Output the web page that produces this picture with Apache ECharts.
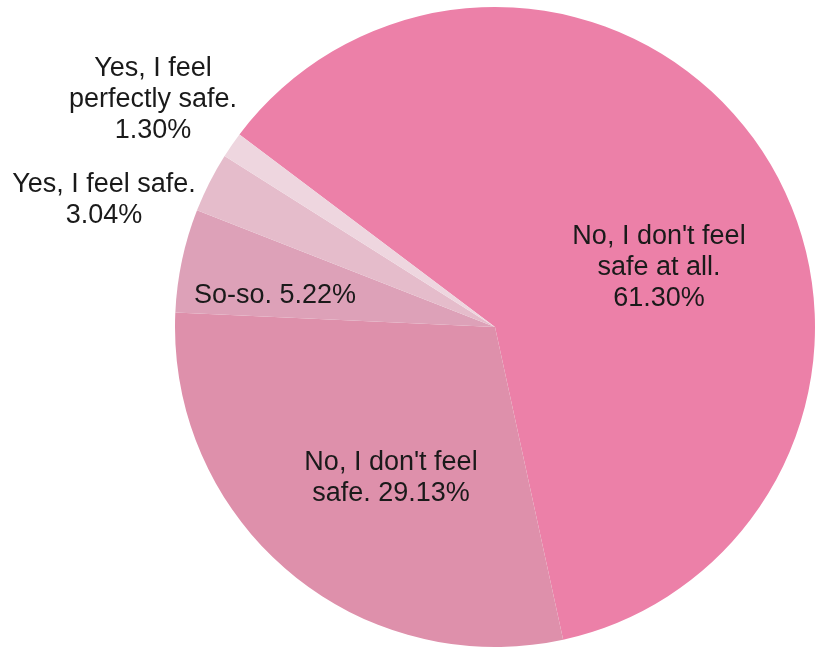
<!DOCTYPE html>
<html>
<head>
<meta charset="utf-8">
<script src="https://cdn.jsdelivr.net/npm/echarts@6/dist/echarts.min.js"></script>
<style>html,body{margin:0;padding:0;background:#fff}#c{width:827px;height:655px}</style>
</head>
<body>
<div id="c"></div>
<script>
const categories = [
  "No, I don't feel\nsafe at all.",
  "No, I don't feel\nsafe.",
  "So-so.",
  "Yes, I feel safe.",
  "Yes, I feel\nperfectly safe."
];
const values = [61.30, 29.13, 5.22, 3.04, 1.30];
const sliceColors = ['#ec80a8', '#de90ab', '#dda1b8', '#e5bccb', '#eed6df'];
const valueSeparators = ['\n', ' ', ' ', '\n', '\n'];
const labelAnchors = [[659, 268], [391, 478], [275, 296], [104, 200], [153, 100]];

const chart = echarts.init(document.getElementById('c'), null, {renderer: 'canvas'});
chart.setOption({
  animation: false,
  series: [{
    type: 'pie',
    center: [495, 327],
    radius: 320,
    startAngle: 143,
    clockwise: true,
    avoidLabelOverlap: false,
    data: categories.map((c, i) => ({
      name: c,
      value: values[i],
      itemStyle: {color: sliceColors[i]}
    })),
    itemStyle: {borderWidth: 0},
    emphasis: {disabled: true},
    label: {
      show: true,
      position: 'inside',
      fontFamily: '"Liberation Sans", Arial, sans-serif',
      fontSize: 27,
      lineHeight: 31,
      color: '#1a1a1a',
      align: 'center',
      formatter: p => p.name + valueSeparators[p.dataIndex] + p.value.toFixed(2) + '%'
    },
    labelLine: {show: false},
    labelLayout: p => ({
      x: labelAnchors[p.dataIndex][0],
      y: labelAnchors[p.dataIndex][1],
      align: 'center',
      verticalAlign: 'middle'
    })
  }]
});
</script>
</body>
</html>
